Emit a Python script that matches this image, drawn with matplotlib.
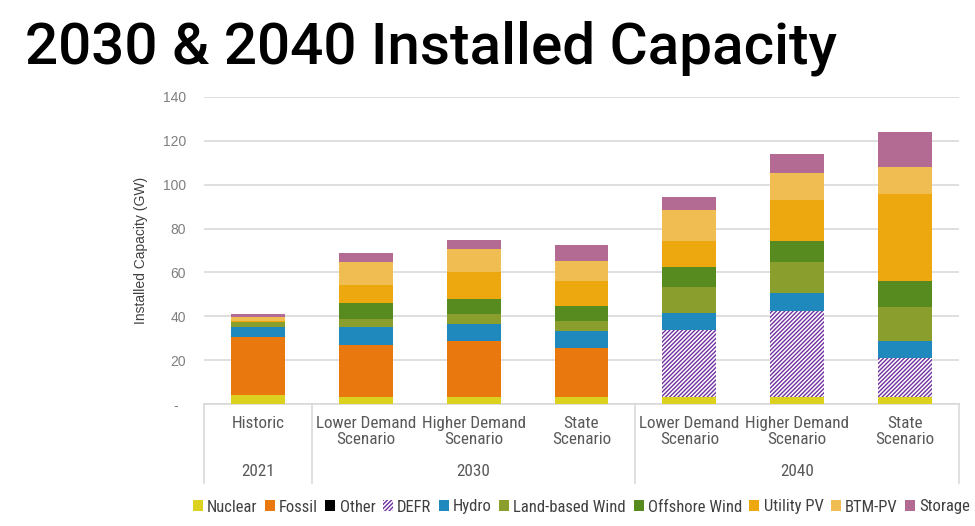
import matplotlib
matplotlib.use("Agg")
import matplotlib.pyplot as plt
import matplotlib.transforms as mtransforms
import numpy as np

categories = ["Historic", "Lower Demand\nScenario", "Higher Demand\nScenario", "State\nScenario",
              "Lower Demand\nScenario", "Higher Demand\nScenario", "State\nScenario"]
years = ["2021", "2030", "2040"]
year_groups = [[0], [1, 2, 3], [4, 5, 6]]

series_names = ["Nuclear", "Fossil", "Other", "DEFR", "Hydro", "Land-based Wind",
                "Offshore Wind", "Utility PV", "BTM-PV", "Storage"]
nuclear   = [4.2, 3.3, 3.3, 3.3, 3.3, 3.3, 3.3]
fossil    = [26.4, 23.9, 25.7, 22.5, 0.0, 0.0, 0.0]
other     = [0.0, 0.0, 0.0, 0.0, 0.0, 0.0, 0.0]
defr      = [0.0, 0.0, 0.0, 0.0, 30.5, 39.3, 17.9]
hydro     = [4.6, 7.9, 7.7, 7.4, 7.8, 7.9, 7.6]
land_wind = [2.4, 3.8, 4.3, 4.9, 12.0, 14.4, 15.7]
offshore  = [0.0, 7.0, 7.0, 6.7, 8.8, 9.2, 11.5]
utility   = [0.5, 8.5, 12.4, 11.3, 11.7, 19.1, 39.9]
btm_pv    = [1.7, 10.2, 10.2, 9.2, 14.5, 12.3, 12.0]
storage   = [1.5, 4.2, 4.2, 7.4, 5.9, 8.5, 15.9]
series_values = [nuclear, fossil, other, defr, hydro, land_wind, offshore, utility, btm_pv, storage]

colors = ["#DCD11F", "#E9790E", "#000000", "#7030A0", "#1F88BC", "#8A9E2D",
          "#588B1F", "#EDA80F", "#F0BD52", "#B36A93"]

yticks = [0, 20, 40, 60, 80, 100, 120, 140]
ytick_labels = ["-  ", "20", "40", "60", "80", "100", "120", "140"]

narrow = ["Roboto Condensed", "Archivo Narrow", "Liberation Sans Narrow", "DejaVu Sans"]
plt.rcParams["hatch.linewidth"] = 1.0

fig = plt.figure(figsize=(9.75, 5.26), dpi=100)
ax = fig.add_axes([204/975, 1-404.3/526, (959-204)/975, (404.3-96.7)/526])

x = np.arange(len(categories))
bottom = np.zeros(len(categories))
handles = []
for name, vals, col in zip(series_names, series_values, colors):
    vals = np.array(vals)
    if name == "DEFR":
        b = ax.bar(x, vals, 0.5, bottom=bottom, facecolor="white", edgecolor=col,
                   hatch="////////", linewidth=0, label=name, zorder=3)
    else:
        b = ax.bar(x, vals, 0.5, bottom=bottom, color=col, linewidth=0, label=name, zorder=3)
    handles.append(b)
    bottom += vals

ax.set_xlim(-0.5, len(categories) - 0.5)
ax.set_ylim(0, 140)
ax.set_yticks(yticks)
ax.set_yticklabels(ytick_labels, fontsize=10, color="#7F7F7F", family=["Liberation Sans", "DejaVu Sans"])
ax.tick_params(axis="y", length=0, pad=13)
ax.set_xticks([])
ax.grid(axis="y", color="#D9D9D9", linewidth=1.2, zorder=0)
ax.set_axisbelow(True)
for s in ["top", "right", "left"]:
    ax.spines[s].set_visible(False)
ax.spines["bottom"].set_color("#D9D9D9")
ax.spines["bottom"].set_linewidth(1.2)

ax.set_ylabel("Installed Capacity (GW)", fontsize=10, color="#404040",
              family=["Liberation Sans", "DejaVu Sans"])
ax.yaxis.set_label_coords(-0.074, 0.5)

trans = mtransforms.blended_transform_factory(ax.transData, ax.transAxes)
axh = 307.6
# group dividers
for xd in [-0.5, 0.5, 3.5, 6.5]:
    ax.plot([xd, xd], [0, -(483 - 404.3)/axh], transform=trans, color="#D9D9D9",
            linewidth=1.2, clip_on=False)

for i, c in enumerate(categories):
    ax.text(i, -(416 - 404.3)/axh, c, transform=trans, ha="center", va="top",
            fontsize=12.3, color="#595959", family=narrow, linespacing=1.1)
for yr, grp in zip(years, year_groups):
    ax.text(np.mean(grp), -(472 - 404.3)/axh, yr, transform=trans, ha="center", va="center",
            fontsize=12.3, color="#595959", family=narrow)

leg = ax.legend(handles=handles, loc="center", bbox_to_anchor=(0.5, -(507 - 404.3)/axh),
                ncol=10, frameon=False, handlelength=0.6, handleheight=0.6,
                handletextpad=0.25, columnspacing=0.45, borderaxespad=0,
                prop={"family": narrow, "size": 12})
for t in leg.get_texts():
    t.set_color("#404040")

fig.text(25/975, 1-63/526, "2030 & 2040 Installed Capacity", fontsize=42, color="black",
         ha="left", va="baseline", family=["Roboto", "DejaVu Sans"], weight="medium")

fig.savefig("out.png", dpi=100)
